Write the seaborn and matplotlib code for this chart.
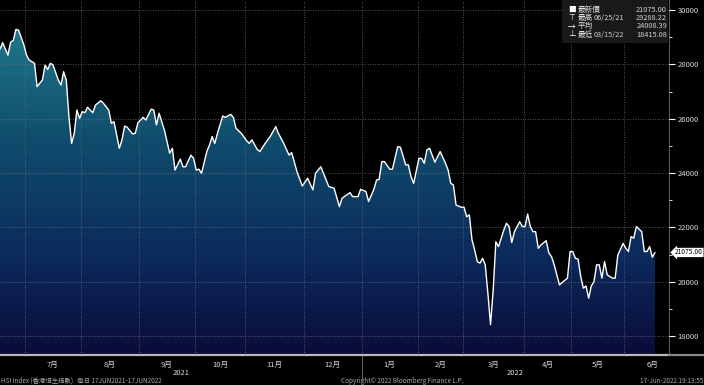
import numpy as np
import pandas as pd
import seaborn as sns
import matplotlib.pyplot as plt
import matplotlib.transforms as mtransforms
from matplotlib.colors import LinearSegmentedColormap
from matplotlib.patches import PathPatch, Rectangle

dates = [
    "2021-06-17", "2021-06-18", "2021-06-22", "2021-06-23", "2021-06-24", "2021-06-25", "2021-06-28", "2021-06-30",
    "2021-07-02", "2021-07-05", "2021-07-07", "2021-07-08", "2021-07-12", "2021-07-13", "2021-07-14", "2021-07-15",
    "2021-07-16", "2021-07-20", "2021-07-21", "2021-07-22", "2021-07-23", "2021-07-26", "2021-07-27", "2021-07-28",
    "2021-07-29", "2021-07-30", "2021-08-02", "2021-08-03", "2021-08-04", "2021-08-06", "2021-08-09", "2021-08-11",
    "2021-08-12", "2021-08-16", "2021-08-17", "2021-08-18", "2021-08-20", "2021-08-23", "2021-08-24", "2021-08-25",
    "2021-08-27", "2021-08-30", "2021-08-31", "2021-09-02", "2021-09-03", "2021-09-07", "2021-09-08", "2021-09-09",
    "2021-09-10", "2021-09-14", "2021-09-15", "2021-09-16", "2021-09-17", "2021-09-20", "2021-09-23", "2021-09-24",
    "2021-09-27", "2021-09-29", "2021-09-30", "2021-10-04", "2021-10-05", "2021-10-06", "2021-10-08", "2021-10-11",
    "2021-10-12", "2021-10-13", "2021-10-15", "2021-10-19", "2021-10-20", "2021-10-22", "2021-10-25", "2021-10-26",
    "2021-10-28", "2021-11-01", "2021-11-02", "2021-11-03", "2021-11-05", "2021-11-08", "2021-11-10", "2021-11-12",
    "2021-11-16", "2021-11-17", "2021-11-19", "2021-11-23", "2021-11-24", "2021-11-26", "2021-11-30", "2021-12-02",
    "2021-12-06", "2021-12-07", "2021-12-09", "2021-12-10", "2021-12-14", "2021-12-16", "2021-12-20", "2021-12-21",
    "2021-12-24", "2021-12-28", "2021-12-30", "2021-12-31", "2022-01-04", "2022-01-05", "2022-01-07", "2022-01-10",
    "2022-01-11", "2022-01-12", "2022-01-13", "2022-01-17", "2022-01-18", "2022-01-20", "2022-01-21", "2022-01-25",
    "2022-01-26", "2022-01-27", "2022-01-28", "2022-02-04", "2022-02-07", "2022-02-08", "2022-02-09", "2022-02-10",
    "2022-02-14", "2022-02-16", "2022-02-18", "2022-02-21", "2022-02-22", "2022-02-23", "2022-02-24", "2022-02-28",
    "2022-03-01", "2022-03-02", "2022-03-03", "2022-03-04", "2022-03-07", "2022-03-08", "2022-03-09", "2022-03-10",
    "2022-03-11", "2022-03-14", "2022-03-15", "2022-03-16", "2022-03-17", "2022-03-18", "2022-03-22", "2022-03-23",
    "2022-03-24", "2022-03-25", "2022-03-28", "2022-03-30", "2022-03-31", "2022-04-01", "2022-04-04", "2022-04-06",
    "2022-04-07", "2022-04-08", "2022-04-11", "2022-04-12", "2022-04-14", "2022-04-19", "2022-04-20", "2022-04-21",
    "2022-04-25", "2022-04-26", "2022-04-28", "2022-04-29", "2022-05-03", "2022-05-04", "2022-05-05", "2022-05-06",
    "2022-05-10", "2022-05-11", "2022-05-12", "2022-05-13", "2022-05-16", "2022-05-17", "2022-05-18", "2022-05-19",
    "2022-05-20", "2022-05-23", "2022-05-25", "2022-05-26", "2022-05-27", "2022-05-31", "2022-06-01", "2022-06-02",
    "2022-06-06", "2022-06-07", "2022-06-08", "2022-06-10", "2022-06-13", "2022-06-14", "2022-06-15", "2022-06-16",
    "2022-06-17",
]
closes = [
    28560, 28800, 28340, 28820, 28880, 29288, 29260, 28720,
    28340, 28160, 28040, 27180, 27430, 27970, 27810, 28040,
    27980, 27420, 27240, 27730, 27420, 26080, 25090, 25460,
    26320, 26010, 26260, 26220, 26420, 26220, 26500, 26660,
    26570, 26320, 25830, 25890, 24910, 25220, 25730, 25680,
    25440, 25460, 25850, 26050, 25950, 26350, 26320, 25770,
    26200, 25580, 25150, 24730, 24910, 24110, 24510, 24230,
    24230, 24660, 24540, 24110, 24140, 23990, 24790, 25030,
    25340, 25090, 25460, 26100, 26050, 26160, 26050, 25650,
    25460, 25190, 25090, 25220, 24870, 24790, 25090, 25360,
    25710, 25460, 25090, 24660, 24750, 24050, 23520, 23810,
    23380, 23990, 24230, 23990, 23500, 23440, 22760, 23070,
    23280, 23130, 23130, 23400, 23320, 22950, 23400, 23740,
    23770, 24420, 24420, 24140, 24140, 24970, 24950, 24300,
    24300, 23870, 23620, 24540, 24540, 24360, 24850, 24910,
    24400, 24790, 24360, 24110, 23620, 23560, 22820, 22740,
    22740, 22390, 22460, 21540, 21170, 20740, 20680, 20860,
    20620, 19570, 18415, 19700, 21470, 21290, 21900, 22150,
    22030, 21440, 21840, 22210, 22030, 22030, 22490, 22030,
    21840, 21840, 21230, 21350, 21510, 21050, 20920, 20620,
    19880, 19970, 20130, 21110, 21110, 20860, 20830, 20190,
    19760, 19840, 19390, 19840, 20000, 20620, 20620, 20130,
    20740, 20250, 20130, 20130, 20980, 21410, 21230, 21110,
    21660, 21600, 22030, 21840, 21110, 21110, 21290, 20900,
    21075,
]
# HKEX holidays in the window (axis is in trading days)
hk_holidays = [
    "2021-07-01", "2021-09-22", "2021-10-01", "2021-10-14", "2021-12-27",
    "2022-02-01", "2022-02-02", "2022-02-03", "2022-04-05", "2022-04-15",
    "2022-04-18", "2022-05-02", "2022-05-09", "2022-06-03",
]
month_starts = pd.date_range("2021-07-01", "2022-07-01", freq="MS").strftime("%Y-%m-%d").tolist()
month_labels = ["7月", "8月", "9月", "10月", "11月", "12月", "1月", "2月", "3月", "4月", "5月", "6月"]
year_labels = ["2021", "2022"]
y_ticks = [18000, 20000, 22000, 24000, 26000, 28000, 30000]

legend_rows = [
    ("■", "最新價", "", "21075.00"),
    ("⊤", "最高", "06/25/21", "29288.22"),
    ("→", "平均", "", "24008.39"),
    ("⊥", "最低", "03/15/22", "18415.08"),
]
last_value = closes[-1]

sns.set_theme(style="dark", rc={
    "axes.facecolor": "black", "figure.facecolor": "black",
    "axes.edgecolor": "#808080", "text.color": "#d8d8d8",
    "xtick.color": "#d8d8d8", "ytick.color": "#d8d8d8",
})
plt.rcParams["font.family"] = ["Noto Sans CJK TC", "DejaVu Sans"]

start = np.datetime64(dates[0])
td = np.busday_count(start, np.array(dates, dtype="datetime64[D]"), holidays=hk_holidays)
first_days = np.busday_offset(np.array(month_starts, dtype="datetime64[D]"), 0, roll="forward", holidays=hk_holidays)
bounds = np.busday_count(start, first_days, holidays=hk_holidays) - 0.5
mids = (bounds[:-1] + bounds[1:]) / 2

df = pd.DataFrame({"td": td, "close": closes})

fig = plt.figure(figsize=(7.04, 3.85), dpi=100)
ax = fig.add_axes([0, 30 / 385, 669 / 704, 355 / 385])

y_lo, y_hi = 17300, 30370
x_lo, x_hi = 0, td[-1] + 5.3

# gradient area under the line
cmap = LinearSegmentedColormap.from_list("bbg", [(0, "#20788a"), (0.35, "#0f4c6c"), (0.7, "#0c2a5c"), (1, "#0a0c3a")])
poly = ax.fill_between(df["td"], df["close"], y_lo, color="none", lw=0)
grad = np.linspace(0, 1, 256).reshape(-1, 1)
im = ax.imshow(grad, aspect="auto", cmap=cmap, extent=[x_lo, td[-1], y_lo, 29400],
               origin="upper", zorder=1)
clip = PathPatch(poly.get_paths()[0], transform=ax.transData, fc="none", ec="none")
ax.add_patch(clip)
im.set_clip_path(clip)

sns.lineplot(data=df, x="td", y="close", color="white", lw=1.0, ax=ax, zorder=3)

ax.set_xlim(x_lo, x_hi)
ax.set_ylim(y_lo, y_hi)
ax.set_xlabel("")
ax.set_ylabel("")

# grid
ax.set_xticks(bounds[:-1])
ax.set_xticklabels([])
ax.yaxis.tick_right()
ax.set_yticks(y_ticks)
ax.set_yticklabels([str(v) for v in y_ticks], fontsize=5.5)
ax.set_yticks(np.arange(19000, 30000, 2000), minor=True)
ax.tick_params(axis="y", which="major", length=4, width=0.8, color="white", pad=2)
ax.tick_params(axis="y", which="minor", length=2, width=0.6, color="white")
ax.tick_params(axis="x", length=3, width=0.6, color="#909090")
ax.grid(True, which="major", color="#707070", ls=(0, (1, 2)), lw=0.6)
ax.set_axisbelow(False)
for gl in ax.get_xgridlines() + ax.get_ygridlines():
    gl.set_zorder(2)

for s in ["top", "left"]:
    ax.spines[s].set_visible(False)
ax.spines["bottom"].set_color("#b8b8b8")
ax.spines["bottom"].set_linewidth(1.6)
ax.spines["right"].set_color("#5a5a5a")
ax.spines["right"].set_linewidth(0.8)
fig.add_artist(plt.Line2D([669 / 704, 1], [30 / 385, 30 / 385], transform=fig.transFigure,
                          color="#8a8a8a", lw=1.6))

# month / year labels
xtr = mtransforms.blended_transform_factory(ax.transData, ax.transAxes)
for m, lab in zip(mids, month_labels):
    ax.text(m, -0.027, lab, transform=xtr, ha="center", va="center", fontsize=5.5, color="#d8d8d8")
year_centres = [(x_lo + bounds[6]) / 2, (bounds[6] + x_hi) / 2]
for yc, lab in zip(year_centres, year_labels):
    ax.text(yc, -0.052, lab, transform=xtr, ha="center", va="center", fontsize=5.5, color="#d8d8d8")
ax.plot([bounds[6], bounds[6]], [0, -0.07], transform=xtr, color="#707070", lw=0.6, clip_on=False)

# last price tag
ytr = mtransforms.blended_transform_factory(ax.transAxes, ax.transData)
ax.text(1.009, last_value, f"{last_value:.2f}", transform=ytr, ha="left", va="center", fontsize=4.8,
        color="black", bbox=dict(boxstyle="larrow,pad=0.1", fc="white", ec="none"), zorder=6)

# legend box
fig.patches.append(Rectangle((562 / 704, 1 - 43 / 385), 106 / 704, 43 / 385, transform=fig.transFigure,
                             fc="#1c1c1c", ec="none", alpha=0.92, zorder=5))
for i, (sym, name, dt, val) in enumerate(legend_rows):
    yy = 1 - (10 + 8.2 * i) / 385
    fig.text(572 / 704, yy, sym, ha="center", va="center", fontsize=5.5, color="white", zorder=6)
    fig.text(578 / 704, yy, name, ha="left", va="center", fontsize=5.5, color="#e0e0e0", zorder=6)
    if dt:
        fig.text(594 / 704, yy, dt, ha="left", va="center", fontsize=5.3, color="#d0d0d0", zorder=6)
    fig.text(667 / 704, yy, val, ha="right", va="center", fontsize=5.3, color="#d0d0d0", zorder=6)
fig.add_artist(plt.Line2D([565 / 704, 565 / 704], [1 - 10 / 385, 1 - 35 / 385], transform=fig.transFigure,
                          color="#909090", lw=0.5, ls=(0, (1, 1.5))))

# footer
fig.text(1 / 704, 4 / 385, "HSI Index (香港恒生指數)   每日 17JUN2021-17JUN2022", ha="left", va="center",
         fontsize=4.6, color="#a8a8a8")
fig.text(402 / 704, 4 / 385, "Copyright© 2022 Bloomberg Finance L.P.", ha="center", va="center",
         fontsize=4.6, color="#a8a8a8")
fig.text(703 / 704, 4 / 385, "17-Jun-2022 19:13:55", ha="right", va="center", fontsize=4.6, color="#a8a8a8")

fig.savefig("out.png", dpi=100, facecolor="black")
